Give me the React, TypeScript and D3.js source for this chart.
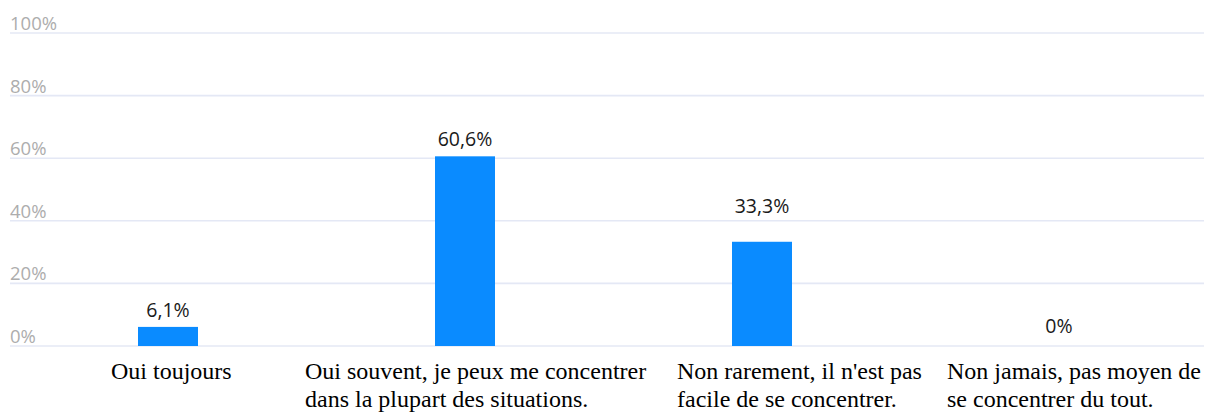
import React from "react";
import * as d3 from "d3";

const categories: string[][] = [
  ["Oui toujours"],
  ["Oui souvent, je peux me concentrer", "dans la plupart des situations."],
  ["Non rarement, il n'est pas", "facile de se concentrer."],
  ["Non jamais, pas moyen de", "se concentrer du tout."],
];
const values: number[] = [6.1, 60.6, 33.3, 0];
const valueLabels: string[] = ["6,1%", "60,6%", "33,3%", "0%"];
const yTicks: number[] = [0, 20, 40, 60, 80, 100];

const W = 1205;
const H = 414;

export default function App() {
  const x = d3
    .scalePoint<number>()
    .domain(values.map((_, i) => i))
    .range([19.5, 1207.5])
    .padding(0.5);
  const y = d3.scaleLinear().domain([0, 100]).range([346, 33]);
  const barW = 60;
  // left offset of each label block relative to its band centre
  const labelDx = [-57, -160, -85, -112];

  // value label baseline: 10px above bar, but lifted above a gridline it would cross
  const labelY = (v: number) => {
    if (v <= 0) return y(0) - 13;
    let base = y(v) - 10;
    const top = base - 14;
    for (const t of yTicks) {
      const gy = y(t);
      if (gy > top - 1 && gy < base + 1 && gy < y(v) - 2) base = gy - 8;
    }
    return base;
  };

  return (
    <svg
      width={W}
      height={H}
      style={{ position: "absolute", left: 0, top: 0, background: "#fff" }}
    >
      {yTicks.map((t) => (
        <g key={t}>
          <line
            x1={10}
            x2={1204}
            y1={y(t)}
            y2={y(t)}
            stroke="#e4e8f5"
            strokeWidth={1.6}
          />
          <text
            x={10}
            y={y(t) - 3}
            fontFamily="'Open Sans', sans-serif"
            fontSize={18.5}
            fill="#adadad"
          >
            {t}%
          </text>
        </g>
      ))}
      {values.map((v, i) => (
        <g key={i}>
          {v > 0 && (
            <rect
              x={(x(i) as number) - barW / 2}
              y={y(v)}
              width={barW}
              height={y(0) - y(v)}
              fill="#0a8bff"
            />
          )}
          <text
            x={x(i) as number}
            y={labelY(v)}
            textAnchor="middle"
            fontFamily="'Open Sans', sans-serif"
            fontSize={19.5}
            fill="#1a1a1a"
          >
            {valueLabels[i]}
          </text>
          {categories[i].map((line, j) => (
            <text
              key={j}
              x={(x(i) as number) + labelDx[i]}
              y={379 + j * 28}
              fontFamily="'Liberation Serif', 'Times New Roman', serif"
              fontSize={24}
              fill="#000"
            >
              {line}
            </text>
          ))}
        </g>
      ))}
    </svg>
  );
}
